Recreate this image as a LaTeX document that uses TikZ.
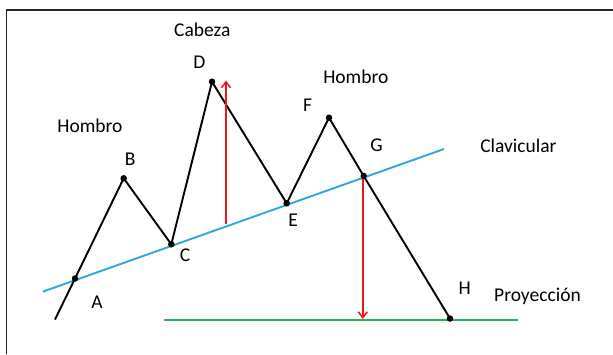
\documentclass[tikz,border=0pt]{standalone}
\usepackage{fontspec}
\setmainfont{Carlito}
\usetikzlibrary{arrows.meta}
\definecolor{clavblue}{RGB}{45,168,220}
\definecolor{projgreen}{RGB}{40,175,95}
\definecolor{arrred}{RGB}{240,20,20}
\tikzset{
  price/.style={line width=1.9pt, black},
  neck/.style={line width=1.9pt, clavblue},
  proj/.style={line width=1.9pt, projgreen},
  measure/.style={line width=1.6pt, arrred, -{Straight Barb[length=6pt,width=9pt,line width=1.5pt]}},
  dot/.style={circle, fill=black, inner sep=0pt, minimum size=6.5pt},
  lbl/.style={font=\fontsize{19.5}{21}\selectfont, inner sep=0pt},
  frame/.style={line width=1.6pt, black!85}
}
\begin{document}
\begin{tikzpicture}[x=1pt,y=-1pt]
\useasboundingbox (0,0) rectangle (613,354);
\fill[white] (0,0) rectangle (613,354);
\draw[frame] (6.5,354) -- (6.5,10) -- (613,10);
% points
\coordinate (S) at (55,319.5);
\coordinate (A) at (75,278.5);
\coordinate (B) at (123.7,178.3);
\coordinate (C) at (171.3,244.3);
\coordinate (D) at (212,81.7);
\coordinate (E) at (286.7,203.3);
\coordinate (F) at (329,117.7);
\coordinate (G) at (363.7,176);
\coordinate (H) at (450,318.5);
\coordinate (NL) at (42.7,291.7);
\coordinate (NR) at (444,149);
\coordinate (PL) at (164.3,319.7);
\coordinate (PR) at (518.3,319.7);
\coordinate (R1) at (226,223.5);
\coordinate (R2) at (226,80.5);
\coordinate (G2) at (362.8,319);
% lines
\draw[proj] (PL) -- (PR);
\draw[neck] (NL) -- (NR);
\draw[price, line join=round] (S) -- (A) -- (B) -- (C) -- (D) -- (E) -- (F) -- (G) -- (H);
\draw[measure] (R1) -- (R2);
\draw[measure] (G) ++(-0.9,0) coordinate (Gs) (Gs) -- (G2);
% dots
\foreach \p in {A,B,C,D,E,F,G,H} \node[dot] at (\p) {};
% labels
\node[lbl] (lCabeza) at (202.3,30) {Cabeza};
\node[lbl] (lD) at (199.4,62.7) {D};
\node[lbl] (lHombroR) at (355.8,77) {Hombro};
\node[lbl] (lF) at (307.7,105) {F};
\node[lbl] (lHombroL) at (90,125.3) {Hombro};
\node[lbl] (lB) at (130.2,159.7) {B};
\node[lbl] (lG) at (376.5,145.3) {G};
\node[lbl] (lClav) at (518.4,145.3) {Clavicular};
\node[lbl] (lE) at (293.2,220.3) {E};
\node[lbl] (lC) at (185,255.3) {C};
\node[lbl] (lA) at (97,302.7) {A};
\node[lbl] (lH) at (464.8,288.7) {H};
\node[lbl] (lProy) at (537.5,296) {Proyección};
\end{tikzpicture}
\end{document}
